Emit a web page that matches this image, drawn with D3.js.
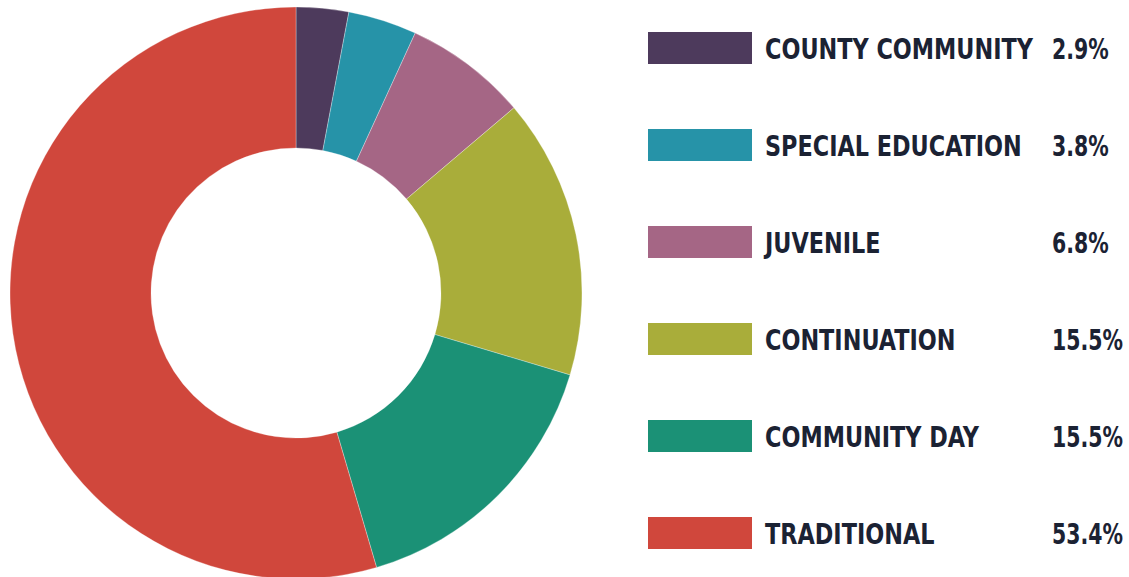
<!DOCTYPE html>
<html>
<head>
<meta charset="utf-8">
<script src="https://cdn.jsdelivr.net/npm/d3@7"></script>
<style>
body{margin:0;background:#fff;}
svg{display:block;}
</style>
</head>
<body>
<div id="chart"></div>
<script>
// data
var categories=['COUNTY COMMUNITY','SPECIAL EDUCATION','JUVENILE','CONTINUATION','COMMUNITY DAY','TRADITIONAL'];
var values=[2.9,3.8,6.8,15.5,15.5,53.4];
var colors=['#4d3a5c','#2693a8','#a56685','#a9ad3a','#1b9176','#d0473c'];

var W=1129,H=577;
var cx=296,cy=293,outerR=286,innerR=145;

var svg=d3.select('#chart').append('svg').attr('width',W).attr('height',H);

var pie=d3.pie().sort(null).value(function(d){return d;});
var arc=d3.arc().innerRadius(innerR).outerRadius(outerR);

var g=svg.append('g').attr('transform','translate('+cx+','+cy+')');
g.selectAll('path').data(pie(values)).enter().append('path')
	.attr('d',arc)
	.attr('fill',function(d,i){return colors[i];})
	.attr('stroke','#fff')
	.attr('stroke-opacity',0.5)
	.attr('stroke-width',0.6);

// legend
var y=d3.scalePoint().domain(categories).range([48,533]);

var leg=svg.append('g').selectAll('g').data(categories).enter().append('g')
	.attr('transform',function(d){return 'translate(0,'+y(d)+')';});

leg.append('rect')
	.attr('x',648).attr('y',-16)
	.attr('width',104).attr('height',32)
	.attr('fill',function(d,i){return colors[i];});

var font='"DejaVu Sans Condensed","DejaVu Sans",sans-serif';

var labels=leg.append('text')
	.style('font-family',font)
	.style('font-stretch','condensed')
	.style('font-weight',700)
	.style('font-size','28px')
	.style('fill','#1b2233')
	.text(function(d){return d;});

var vals=leg.append('text')
	.style('font-family',font)
	.style('font-stretch','condensed')
	.style('font-weight',700)
	.style('font-size','28px')
	.style('fill','#1b2233')
	.text(function(d,i){return values[i].toFixed(1)+'%';});

// squeeze the wide fallback font so the text fits its column
var k=Math.min(1,268/labels.node().getComputedTextLength());
var kv=Math.min(1,71/vals.filter(function(d,i){return i==3;}).node().getComputedTextLength());
labels.attr('transform','translate(765,11) scale('+k+',1)');
vals.attr('transform','translate(1052,11) scale('+kv+',1)');
</script>
</body>
</html>
